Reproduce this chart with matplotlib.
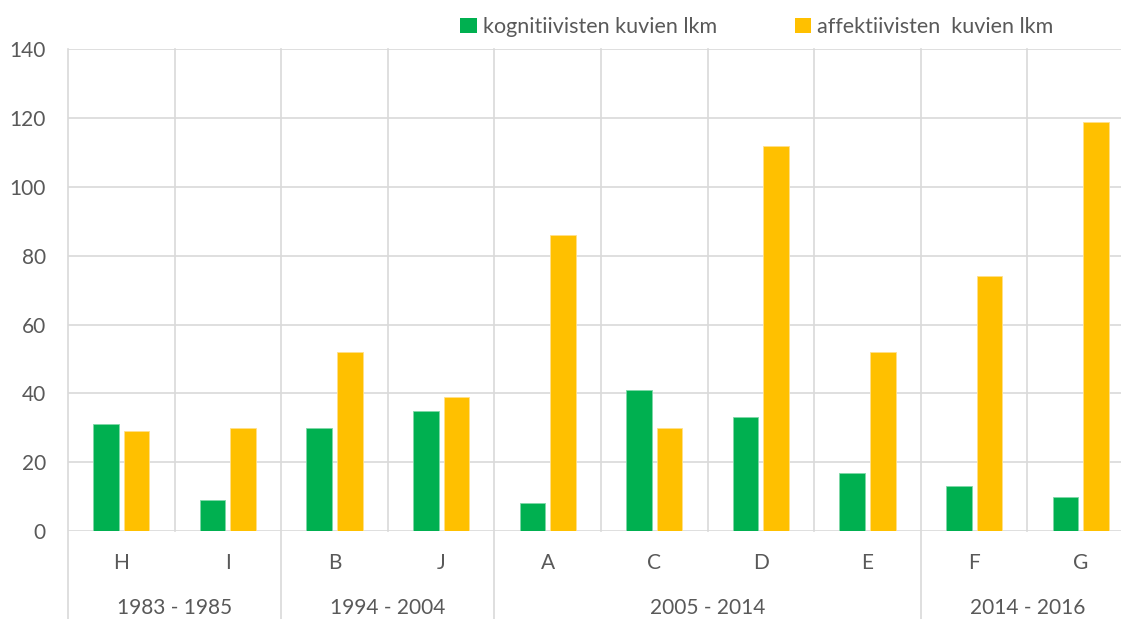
import matplotlib.pyplot as plt
import matplotlib.transforms as mtransforms
from matplotlib.patches import Patch

categories = ["H", "I", "B", "J", "A", "C", "D", "E", "F", "G"]
cognitive = [31, 9, 30, 35, 8, 41, 33, 17, 13, 10]
affective = [29, 30, 52, 39, 86, 30, 112, 52, 74, 119]
group_names = ["1983 - 1985", "1994 - 2004", "2005 - 2014", "2014 - 2016"]
group_sizes = [2, 2, 4, 2]
yticks = [0, 20, 40, 60, 80, 100, 120, 140]

GREEN = "#00B050"
YELLOW = "#FFC000"
GRID = "#D9D9D9"
TEXT = "#595959"

plt.rcParams["font.family"] = ["Lato", "DejaVu Sans"]
fontsize = 15

fig = plt.figure(figsize=(11.21, 6.19), dpi=100)
ax = fig.add_axes([68 / 1121, 1 - 531 / 619, 1066 / 1121, 481.7 / 619])

x = list(range(len(categories)))
width = 0.24
offset = 0.143
ax.bar([i - offset for i in x], cognitive, width=width, color=GREEN,
       edgecolor="#7fd8a7", linewidth=0.6, zorder=3)
ax.bar([i + offset for i in x], affective, width=width, color=YELLOW,
       edgecolor="#ffe08a", linewidth=0.6, zorder=3)

ax.set_xlim(-0.5, len(categories) - 0.5)
ax.set_ylim(0, 140)
for spine in ax.spines.values():
    spine.set_visible(False)

# horizontal gridlines
for y in yticks:
    ax.axhline(y, color=GRID, linewidth=1.2, zorder=1)

# vertical lines between categories; group boundaries run down through labels
trans = mtransforms.blended_transform_factory(ax.transData, ax.transAxes)
boundaries = [-0.5]
pos = -0.5
for size in group_sizes:
    pos += size
    boundaries.append(pos)
for i in range(len(categories) + 1):
    xb = i - 0.5
    bottom = -0.19 if xb in boundaries else 0
    ax.plot([xb, xb], [bottom, 1], color=GRID, linewidth=1.2,
            transform=trans, clip_on=False, zorder=1)

ax.set_yticks(yticks)
ax.set_yticklabels([str(v) for v in yticks], fontsize=fontsize, color=TEXT)
ax.tick_params(axis="y", length=0, pad=16)
ax.set_xticks([])

for i, cat in enumerate(categories):
    ax.text(i, -0.066, cat, transform=trans, ha="center", va="center",
            fontsize=fontsize, color=TEXT)

start = -0.5
for name, size in zip(group_names, group_sizes):
    ax.text(start + size / 2, -0.16, name, transform=trans, ha="center",
            va="center", fontsize=fontsize, color=TEXT)
    start += size

handles = [Patch(facecolor=GREEN, edgecolor="none"),
           Patch(facecolor=YELLOW, edgecolor="none")]
leg = fig.legend(handles, ["kognitiivisten kuvien lkm", "affektiivisten  kuvien lkm"],
                 loc="center", bbox_to_anchor=(757 / 1121, 1 - 27 / 619), ncol=2,
                 frameon=False, fontsize=15.5, handlelength=0.75,
                 handleheight=0.75, handletextpad=0.3, columnspacing=3.6)
for t in leg.get_texts():
    t.set_color(TEXT)

fig.savefig("out.png", dpi=100)
